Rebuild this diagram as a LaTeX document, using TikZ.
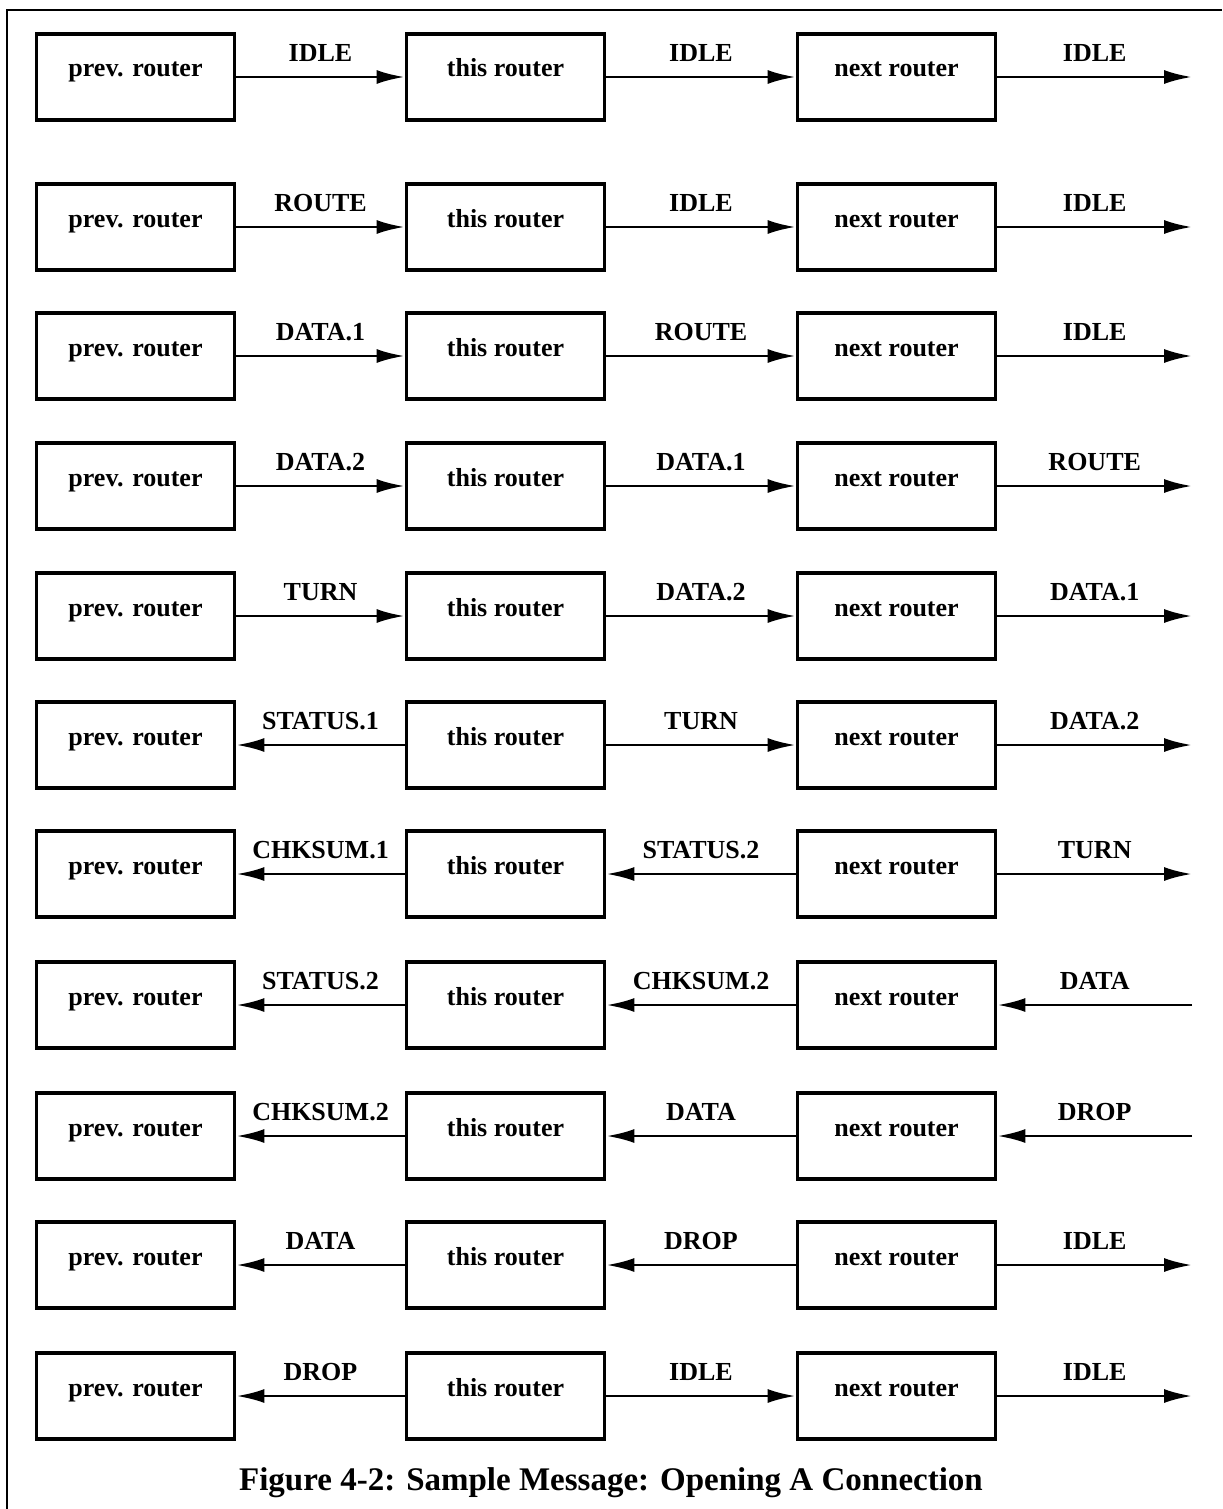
\documentclass[tikz,border=0pt]{standalone}
\usepackage{fontspec}
\setmainfont{Liberation Serif}
\usetikzlibrary{arrows.meta, positioning}
\tikzset{
  % riquadro di un router
  router/.style={draw=black, line width=1.9pt, minimum width=99pt,
    minimum height=43pt, inner sep=0pt, font=\fontsize{13}{15}\selectfont\bfseries,
    text height=1.5ex, text depth=1.5ex},
  % freccia di un messaggio
  msg/.style={-{Latex[length=14pt, width=7pt]}, line width=1.4pt},
  % nome del messaggio sopra la freccia
  msglbl/.style={midway, above=6pt, inner sep=1pt, font=\fontsize{13}{15}\selectfont\bfseries},
  % didascalia
  caption/.style={font=\fontsize{16.5}{19}\selectfont\bfseries},
  % cornice
  frame/.style={line width=1.4pt},
}
\begin{document}
\begin{tikzpicture}[x=0.5pt, y=-0.5pt]
  \useasboundingbox (0,0) rectangle (1222,1509);
  \draw[frame] (7,1509) -- (7,10) -- (1222,10);
  % una riga per ogni passo: etichetta/verso (1 = a destra, 0 = a sinistra)
  \foreach \i/\y/\la/\da/\lb/\db/\lc/\dc in {
    1/77/IDLE/1/IDLE/1/IDLE/1,
    2/227/ROUTE/1/IDLE/1/IDLE/1,
    3/356/DATA.1/1/ROUTE/1/IDLE/1,
    4/486/DATA.2/1/DATA.1/1/ROUTE/1,
    5/616/TURN/1/DATA.2/1/DATA.1/1,
    6/745/STATUS.1/0/TURN/1/DATA.2/1,
    7/874/CHKSUM.1/0/STATUS.2/0/TURN/1,
    8/1005/STATUS.2/0/CHKSUM.2/0/DATA/0,
    9/1136/CHKSUM.2/0/DATA/0/DROP/0,
    10/1265/DATA/0/DROP/0/IDLE/1,
    11/1396/DROP/0/IDLE/1/IDLE/1} {
    \node[router] (p\i) at (135.5,\y) {prev. router};
    \node[router] (t\i) at (505.5,\y) {this router};
    \node[router] (n\i) at (896.5,\y) {next router};
    \coordinate (e\i) at (1192,\y);
    \ifnum\da=1 \draw[msg] (p\i) -- node[msglbl] {\la} (t\i);
    \else \draw[msg] (t\i) -- node[msglbl] {\la} (p\i); \fi
    \ifnum\db=1 \draw[msg] (t\i) -- node[msglbl] {\lb} (n\i);
    \else \draw[msg] (n\i) -- node[msglbl] {\lb} (t\i); \fi
    \ifnum\dc=1 \draw[msg] (n\i) -- node[msglbl] {\lc} (e\i);
    \else \draw[msg] (e\i) -- node[msglbl] {\lc} (n\i); \fi
  }
  \node[caption] (cap) at (611,1483) {Figure 4-2: Sample Message: Opening A Connection};
\end{tikzpicture}
\end{document}
